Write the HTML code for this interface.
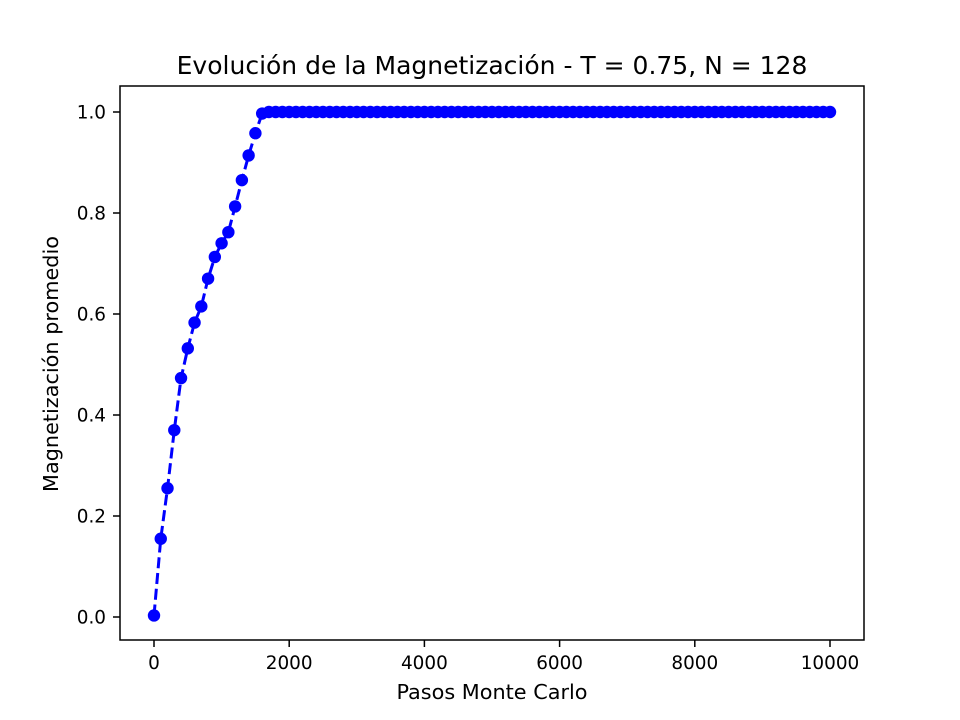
<!DOCTYPE html>
<html><head><meta charset="utf-8"><style>
body{margin:0;background:#fff;}
svg{display:block;font-family:"DejaVu Sans","Liberation Sans",sans-serif;}
</style></head><body>
<svg id="chart" width="960" height="720" viewBox="0 0 960 720">
<rect x="0" y="0" width="960" height="720" fill="#fff"/>
<text x="492" y="74" text-anchor="middle" font-size="25">Evolución de la Magnetización - T = 0.75, N = 128</text>
<g id="plot"></g>
<rect x="120" y="86" width="744" height="554" fill="none" stroke="#000" stroke-width="1.5"/>
<g id="xticks"></g>
<g id="yticks"></g>
<text x="492" y="699" text-anchor="middle" font-size="20.8">Pasos Monte Carlo</text>
<text x="58" y="364" text-anchor="middle" font-size="20.8" transform="rotate(-90 58 364)">Magnetización promedio</text>
</svg>
<script>
const steps = [0,100,200,300,400,500,600,700,800,900,1000,1100,1200,1300,1400,1500,1600,1700,1800,1900,2000,2100,2200,2300,2400,2500,2600,2700,2800,2900,3000,3100,3200,3300,3400,3500,3600,3700,3800,3900,4000,4100,4200,4300,4400,4500,4600,4700,4800,4900,5000,5100,5200,5300,5400,5500,5600,5700,5800,5900,6000,6100,6200,6300,6400,6500,6600,6700,6800,6900,7000,7100,7200,7300,7400,7500,7600,7700,7800,7900,8000,8100,8200,8300,8400,8500,8600,8700,8800,8900,9000,9100,9200,9300,9400,9500,9600,9700,9800,9900,10000];
const magnetization = [0.003,0.155,0.255,0.37,0.473,0.532,0.583,0.615,0.67,0.713,0.74,0.762,0.813,0.865,0.914,0.958,0.997,1.0,1.0,1.0,1.0,1.0,1.0,1.0,1.0,1.0,1.0,1.0,1.0,1.0,1.0,1.0,1.0,1.0,1.0,1.0,1.0,1.0,1.0,1.0,1.0,1.0,1.0,1.0,1.0,1.0,1.0,1.0,1.0,1.0,1.0,1.0,1.0,1.0,1.0,1.0,1.0,1.0,1.0,1.0,1.0,1.0,1.0,1.0,1.0,1.0,1.0,1.0,1.0,1.0,1.0,1.0,1.0,1.0,1.0,1.0,1.0,1.0,1.0,1.0,1.0,1.0,1.0,1.0,1.0,1.0,1.0,1.0,1.0,1.0,1.0,1.0,1.0,1.0,1.0,1.0,1.0,1.0,1.0,1.0,1.0];
const xTicks = [0,2000,4000,6000,8000,10000];
const yTicks = [0.0,0.2,0.4,0.6,0.8,1.0];
const yTickLabels = ["0.0","0.2","0.4","0.6","0.8","1.0"];

const NS="http://www.w3.org/2000/svg";
const xs = v => 154 + v*(830-154)/10000;
const ys = v => 617 - v*505;
function mk(tag, attrs, parent){const e=document.createElementNS(NS,tag);for(const k in attrs)e.setAttribute(k,attrs[k]);parent.appendChild(e);return e;}
const plot=document.getElementById('plot');
const line=mk('polyline',{points:steps.map((s,i)=>xs(s)+','+ys(magnetization[i])).join(' '),fill:'none',stroke:'#0000ff','stroke-width':3,'stroke-dasharray':'11,4.8'},plot);


steps.forEach((s,i)=>{
  const c=mk('circle',{cx:xs(s),cy:ys(magnetization[i]),r:6.2,fill:'#0000ff'},plot);
  
  
});
const xg=document.getElementById('xticks');
xTicks.forEach(t=>{
  const l=mk('line',{x1:xs(t),x2:xs(t),y1:640,y2:647,stroke:'#000','stroke-width':1.5},xg);
  
  
  const tx=mk('text',{x:xs(t),y:669,'text-anchor':'middle','font-size':18.4},xg);
  tx.textContent=String(t);
  
  
});
const yg=document.getElementById('yticks');
yTicks.forEach((t,i)=>{
  const l=mk('line',{x1:113,x2:120,y1:ys(t),y2:ys(t),stroke:'#000','stroke-width':1.5},yg);
  
  
  const tx=mk('text',{x:106,y:ys(t)+6.5,'text-anchor':'end','font-size':18.4},yg);
  tx.textContent=yTickLabels[i];
  
  
});
</script>
</body></html>
